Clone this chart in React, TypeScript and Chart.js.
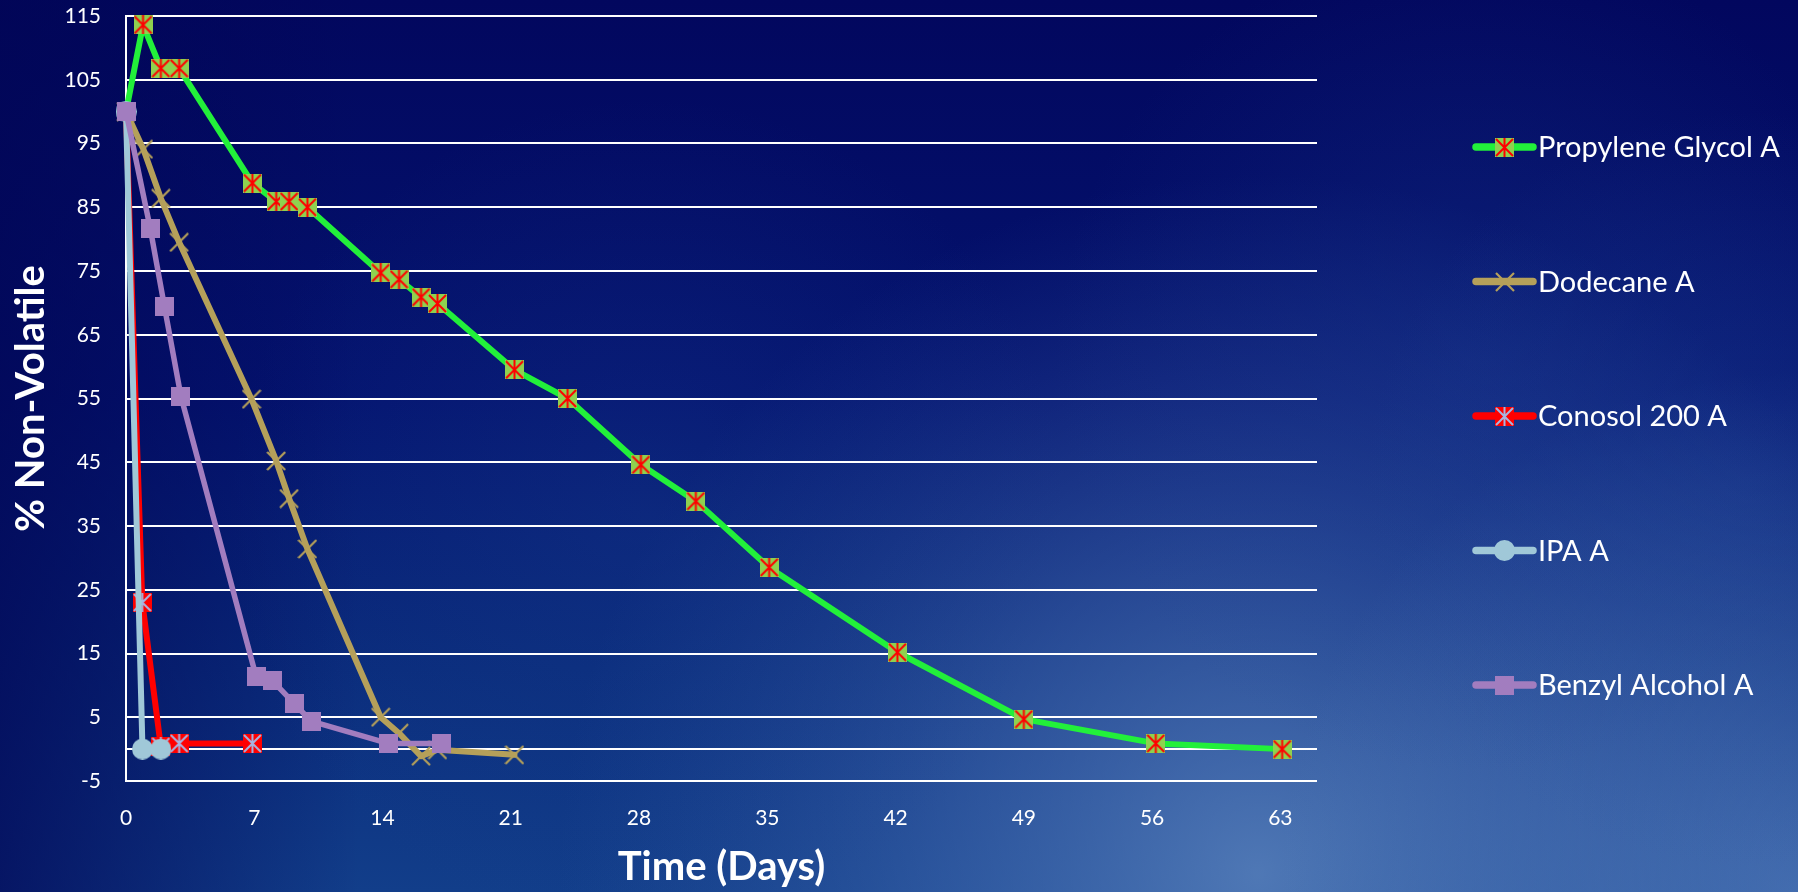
import { useEffect, useRef } from 'react';
import { Chart, registerables } from 'chart.js';

Chart.register(...registerables);

// ---- Data ----
const seriesNames = ['Propylene Glycol A', 'Dodecane A', 'Conosol 200 A', 'IPA A', 'Benzyl Alcohol A'];

const pgDays = [0, 0.93, 1.9, 2.9, 6.9, 8.2, 8.9, 9.9, 13.9, 14.9, 16.1, 17.0, 21.2, 24.1, 28.1, 31.1, 35.1, 42.1, 49.0, 56.2, 63.1];
const pgValues = [100, 113.6, 106.8, 106.8, 88.8, 85.9, 85.9, 85.0, 74.7, 73.7, 70.9, 69.9, 59.5, 55.0, 44.6, 38.9, 28.5, 15.2, 4.7, 0.9, 0.0];

const dodDays = [0, 0.95, 1.9, 2.9, 6.85, 8.2, 8.9, 9.9, 13.9, 14.9, 16.1, 17.0, 21.2];
const dodValues = [100, 94.1, 86.4, 79.5, 54.9, 45.2, 39.3, 31.4, 5.0, 2.5, -1.1, -0.1, -0.9];

const conDays = [0, 0.89, 1.9, 2.9, 6.9];
const conValues = [100, 23.0, 0.4, 0.9, 0.9];

const ipaDays = [0, 0.9, 1.9];
const ipaValues = [100, 0, 0];

const benDays = [0, 1.33, 2.1, 3.0, 7.1, 8.0, 9.2, 10.1, 14.3, 17.2];
const benValues = [100, 81.6, 69.4, 55.3, 11.4, 10.7, 7.1, 4.4, 0.9, 0.9];

const xTickValues = [0, 7, 14, 21, 28, 35, 42, 49, 56, 63];
const yTickValues = [-5, 0, 5, 15, 25, 35, 45, 55, 65, 75, 85, 95, 105, 115];

const FONT = 'Lato, "Open Sans", "Noto Sans", sans-serif';

function makeCanvas(size: number) {
  const c = document.createElement('canvas');
  c.width = size;
  c.height = size;
  return c;
}

function starSquare(fill: string, stroke: string) {
  const s = 19;
  const c = makeCanvas(s);
  const g = c.getContext('2d')!;
  g.fillStyle = fill;
  g.fillRect(0, 0, s, s);
  g.strokeStyle = stroke;
  g.lineWidth = 2;
  g.beginPath();
  g.moveTo(1, 1); g.lineTo(s - 1, s - 1);
  g.moveTo(s - 1, 1); g.lineTo(1, s - 1);
  g.moveTo(s / 2, 0); g.lineTo(s / 2, s);
  g.stroke();
  return c;
}

function xMark(color: string) {
  const s = 20;
  const c = makeCanvas(s);
  const g = c.getContext('2d')!;
  g.strokeStyle = color;
  g.lineWidth = 2.2;
  g.beginPath();
  g.moveTo(1, 1); g.lineTo(s - 1, s - 1);
  g.moveTo(s - 1, 1); g.lineTo(1, s - 1);
  g.stroke();
  return c;
}

function circleMark(color: string) {
  const s = 21;
  const c = makeCanvas(s);
  const g = c.getContext('2d')!;
  g.fillStyle = color;
  g.beginPath();
  g.arc(s / 2, s / 2, s / 2, 0, Math.PI * 2);
  g.fill();
  return c;
}

function squareMark(color: string) {
  const s = 19;
  const c = makeCanvas(s);
  const g = c.getContext('2d')!;
  g.fillStyle = color;
  g.fillRect(0, 0, s, s);
  return c;
}

const backgroundPlugin = {
  id: 'bgPaint',
  beforeDraw(chart: any) {
    const { ctx, width, height } = chart;
    ctx.save();
    const v = ctx.createLinearGradient(0, 0, 0, height);
    v.addColorStop(0, '#02075e');
    v.addColorStop(0.45, '#041470');
    v.addColorStop(0.75, '#0a2c7c');
    v.addColorStop(1, '#123e8a');
    ctx.fillStyle = v;
    ctx.fillRect(0, 0, width, height);

    const blob = (cx: number, cy: number, r: number, stops: [number, string][]) => {
      const rg = ctx.createRadialGradient(cx, cy, 0, cx, cy, r);
      stops.forEach(([o, c]) => rg.addColorStop(o, c));
      ctx.fillStyle = rg;
      ctx.fillRect(0, 0, width, height);
    };
    blob(width * 0.7, height * 0.98, 700, [[0, 'rgba(105,145,200,0.7)'], [0.45, 'rgba(85,125,190,0.4)'], [1, 'rgba(60,100,170,0)']]);
    blob(width, height, 520, [[0, 'rgba(100,140,200,0.55)'], [1, 'rgba(100,140,200,0)']]);
    blob(width * 0.36, height * 0.58, 420, [[0, 'rgba(30,70,150,0.25)'], [1, 'rgba(30,70,150,0)']]);
    blob(width * 0.82, height * 0.4, 420, [[0, 'rgba(30,65,150,0.3)'], [1, 'rgba(30,65,150,0)']]);
    blob(width * 0.97, height * 0.55, 380, [[0, 'rgba(40,80,160,0.3)'], [1, 'rgba(40,80,160,0)']]);

    const h = ctx.createLinearGradient(0, 0, width * 0.2, 0);
    h.addColorStop(0, 'rgba(1,5,85,0.7)');
    h.addColorStop(1, 'rgba(1,5,85,0)');
    ctx.fillStyle = h;
    ctx.fillRect(0, 0, width, height);
    ctx.restore();
  },
};

const legendPlugin = {
  id: 'sideLegend',
  afterDraw(chart: any) {
    const { ctx } = chart;
    const area = chart.chartArea;
    const lineStart = area.right + 159;
    const lineEnd = lineStart + 57;
    const textX = lineEnd + 5;
    const firstY = 147;
    const step = 134.5;
    ctx.save();
    chart.data.datasets.forEach((ds: any, i: number) => {
      const y = firstY + i * step;
      ctx.strokeStyle = ds.borderColor;
      ctx.lineWidth = 7.5;
      ctx.lineCap = 'round';
      ctx.beginPath();
      ctx.moveTo(lineStart, y);
      ctx.lineTo(lineEnd, y);
      ctx.stroke();
      const img = ds.pointStyle as HTMLCanvasElement;
      const cx = (lineStart + lineEnd) / 2;
      ctx.drawImage(img, Math.round(cx - img.width / 2), Math.round(y - img.height / 2));
      ctx.fillStyle = '#ffffff';
      ctx.font = `29px ${FONT}`;
      ctx.textBaseline = 'middle';
      ctx.textAlign = 'left';
      ctx.fillText(ds.label, textX, y + 1);
    });
    ctx.restore();
  },
};

export default function App() {
  const ref = useRef<HTMLCanvasElement | null>(null);

  useEffect(() => {
    document.body.style.margin = '0';
    const canvas = ref.current;
    if (!canvas) return;

    const toPts = (xs: number[], ys: number[]) => xs.map((x, i) => ({ x, y: ys[i] }));

    const common = {
      showLine: true,
      tension: 0,
      borderWidth: 6,
      borderCapStyle: 'round',
      borderJoinStyle: 'round',
      pointRadius: 10,
      pointHoverRadius: 10,
      clip: false,
      fill: false,
    };

    const chart = new Chart(canvas, {
      type: 'scatter',
      data: {
        datasets: [
          { ...common, label: seriesNames[0], data: toPts(pgDays, pgValues), borderColor: '#22f03a', backgroundColor: '#22f03a', pointStyle: starSquare('#8fd14f', '#ff0000'), order: 5 },
          { ...common, label: seriesNames[1], data: toPts(dodDays, dodValues), borderColor: '#b5a05a', backgroundColor: '#b5a05a', pointStyle: xMark('#b5a05a'), order: 4 },
          { ...common, label: seriesNames[2], data: toPts(conDays, conValues), borderColor: '#ff0000', backgroundColor: '#ff0000', pointStyle: starSquare('#ff0000', '#a8b4e0'), order: 3 },
          { ...common, label: seriesNames[3], data: toPts(ipaDays, ipaValues), borderColor: '#a0c8d8', backgroundColor: '#a0c8d8', pointStyle: circleMark('#a0c8d8'), order: 2 },
          { ...common, borderWidth: 5.5, label: seriesNames[4], data: toPts(benDays, benValues), borderColor: '#a27dbf', backgroundColor: '#a27dbf', pointStyle: squareMark('#a27dbf'), order: 1 },
        ] as any,
      },
      options: {
        responsive: false,
        animation: false,
        events: [],
        layout: { padding: { top: 13, right: 481, bottom: 0, left: 0 } },
        plugins: {
          legend: { display: false },
          tooltip: { enabled: false },
        },
        scales: {
          x: {
            type: 'linear',
            min: 0,
            max: 65,
            afterBuildTicks: (s: any) => { s.ticks = xTickValues.map((v) => ({ value: v })); },
            afterFit: (s: any) => { s.height = 111; s.paddingLeft = 0; s.paddingRight = 0; },
            grid: { display: false },
            border: { display: false },
            ticks: { color: '#ffffff', font: { family: FONT, size: 21 }, padding: 17, autoSkip: false, maxRotation: 0 },
            title: { display: true, text: 'Time (Days)', color: '#ffffff', font: { family: FONT, size: 40, weight: 'bold' }, padding: { top: 0, bottom: 1 } },
          },
          y: {
            type: 'linear',
            min: -5,
            max: 115,
            afterBuildTicks: (s: any) => { s.ticks = yTickValues.map((v) => ({ value: v })); },
            afterFit: (s: any) => { s.width = 126; s.paddingTop = 0; s.paddingBottom = 0; },
            grid: { color: '#ffffff', lineWidth: 2, drawTicks: false },
            border: { display: true, color: '#ffffff', width: 2 },
            ticks: {
              color: '#ffffff',
              font: { family: FONT, size: 21 },
              padding: 25,
              callback: (v: any) => (v === 0 ? '' : String(v)),
            },
            title: { display: true, text: '% Non-Volatile', color: '#ffffff', font: { family: FONT, size: 40, weight: 'bold' }, padding: { top: 7, bottom: 0 } },
          },
        },
      } as any,
      plugins: [backgroundPlugin, legendPlugin],
    });

    return () => chart.destroy();
  }, []);

  return (
    <div style={{ position: 'fixed', left: 0, top: 0, width: 1798, height: 892, overflow: 'hidden' }}>
      <canvas ref={ref} width={1798} height={892} style={{ display: 'block' }} />
    </div>
  );
}
